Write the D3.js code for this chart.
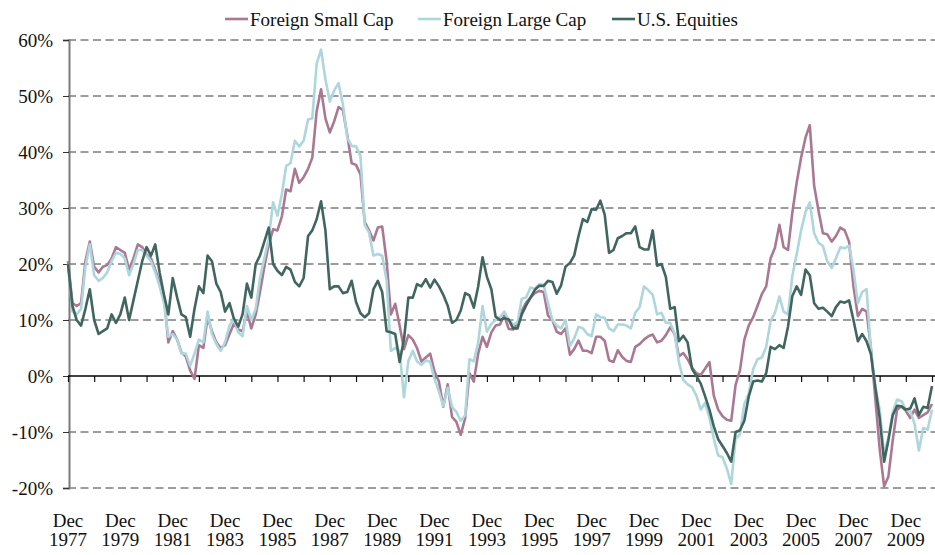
<!DOCTYPE html>
<html>
<head>
<meta charset="utf-8">
<script src="https://cdn.jsdelivr.net/npm/d3@7"></script>
<style>
  body { margin: 0; background: #fff; }
  svg text { font-family: "Liberation Serif", "Times New Roman", serif; fill: #111; }
</style>
</head>
<body>
<div id="container"></div>
<script>
// values every 2 months, starting Dec 1977 (one row per year)
const startDate = new Date(1977, 11, 1)
const stepMonths = 2

const usEquities = [
    20, 12.5, 10, 9, 12, 15.5,
    10, 7.5, 8, 8.5, 11, 9.5,
    11, 14, 10, 13.5, 17, 20.5,
    23, 21.5, 23.5, 18.5, 14.5, 11,
    17.5, 14, 11, 10.5, 7, 12,
    16, 14.8, 21.5, 20.5, 16.5, 15,
    11.5, 13, 10.3, 8.8, 11, 16.5,
    14, 20, 21.5, 24, 26.5, 20,
    18.8, 18, 19.5, 19, 16.8, 16,
    17.5, 25, 26, 28, 31.2, 26,
    15.5, 16, 16, 14.8, 15, 17,
    13.2, 11.2, 10.5, 11.2, 15.5, 17,
    15, 8, 7.8, 7.5, 2.5, 6.5,
    14, 14, 16.4, 16, 17.3, 15.8,
    17.2, 16, 14.5, 12.6, 9.5, 10,
    11.7, 14.8, 14.4, 12.2, 16, 21.2,
    17.7, 15.5, 10.6, 10, 10.3, 10.1,
    8.5, 8.5, 11, 12.6, 14, 15.4,
    16.1, 16.1, 17, 16.8, 14.7, 16.2,
    19.5, 20.2, 21.5, 25, 28, 27.5,
    29.8, 29.7, 31.3, 28.8, 22, 22.5,
    24.6, 25, 25.5, 25.5, 26.7, 23,
    22.6, 22.6, 26, 19.7, 20, 17.7,
    12, 12.3, 6.2, 7.2, 6, 1.3,
    0, -1.4, -3.6, -6, -9, -11.3,
    -12.5, -13.8, -15.3, -10, -9.7, -8,
    -3.7, -1, -0.8, -1, 0.5, 5.2,
    4.8, 5.5, 5, 8.8, 14.3, 16,
    14.5, 19, 18, 13, 12, 12.2,
    11.5, 10.7, 12.3, 13.3, 13.1, 13.5,
    10, 6.2, 7.5, 6.2, 3.9, -2,
    -7.5, -15.3, -11.5, -7, -5.3, -5.4,
    -6, -5.8, -4, -7, -5.5, -5.7,
    -1.8
]

const foreignSmall = [
    20.5, 13, 12.5, 13, 20.5, 24,
    19.5, 18.5, 19.5, 19.8, 21, 23,
    22.5, 22, 19, 21, 23.5, 23,
    21.7, 21, 19, 16.6, 14.2, 6,
    8, 6.5, 4.2, 3.5, 1, -0.5,
    5.5, 5, 10.5, 8, 6, 5,
    5.5, 7.5, 9.3, 8.3, 8, 11.5,
    8.5, 11, 15, 19.5, 23.5, 26.2,
    26, 28.5, 33.3, 33, 37, 34.5,
    35.5, 37, 39, 47.3, 51.2, 46,
    43.5, 45.5, 48, 47.5, 43, 38,
    37.7, 36, 27.5, 26, 24.2, 26.5,
    26.7, 20.5, 11, 12.9, 9, 4.8,
    7.3, 6.5, 5, 2.6, 3.3, 4,
    0.8, -1, -5.5, -1.5, -7.3, -8.2,
    -10.5, -7.5, 0.5, -1, 4, 7,
    5.2, 7.8, 9, 9.2, 10.8, 8.4,
    8.3, 9.5, 11.6, 13.1, 14, 14.8,
    15.2, 15, 10.8, 10, 7.9, 7.5,
    8.5, 3.8, 4.8, 6.3, 4.5, 4.5,
    4.1, 7, 7, 6.3, 2.8, 2.5,
    4.6, 3.4, 2.7, 2.5, 5.2, 5.7,
    6.5, 7.1, 7.4, 6, 6.3, 7.3,
    8.7, 7.5, 3.5, 4.1, 3, 1.5,
    0.5, 0.2, 1.3, 2.5, -3.5, -6,
    -7.2, -7.8, -8, -1.6, 1, 6.5,
    9, 10.5, 12.5, 14.6, 16, 21,
    22.9, 27, 23, 22.5, 29.2, 34.6,
    39, 42.6, 44.8, 34, 29.5, 25.5,
    25.3, 24, 25, 26.5, 26, 24,
    16, 10.7, 12, 11.5, 5, -4,
    -13, -19.7, -18, -11.5, -6, -5.4,
    -6.2, -7.5, -6, -7.5, -7, -6.5,
    -5
]

const foreignLarge = [
    20, 11.5, 11, 12, 19.5, 23.5,
    18, 17, 17.5, 18.5, 20.5, 22,
    21.8, 21, 18, 20, 22.5, 22.5,
    21.5, 20.5, 18.5, 16, 13, 7,
    7.5, 6.5, 4, 4, 1.8, 4,
    6.5, 6, 11.5, 7.5, 5.7, 4.5,
    6, 9, 10.3, 7.8, 7.1, 12.5,
    10, 12, 17.5, 21, 24.5, 31,
    28.6, 32.5, 37.5, 38, 42, 41,
    42, 45.8, 46, 55.8, 58.3, 53,
    49, 51, 52.3, 48.5, 42.5, 41.1,
    41, 39.3, 27, 25.6, 21.5, 21.8,
    21.5, 17, 4.5, 5, 4.5, -3.8,
    2.7, 4.5, 2.6, 2, 2.8, 2.5,
    -0.5, -2.8, -5.4, -2.1, -5.5, -6.4,
    -8, -7, 3, 2.6, 6, 12.5,
    7.9, 9.3, 10, 10.5, 11.5, 10,
    9.2, 9.5, 13.8, 14, 15.8, 15.6,
    16.4, 16.3, 13, 10, 9, 8.5,
    10, 5.4, 6.7, 8.8, 8.5, 7.5,
    7.1, 11, 10.5, 10.4, 8.5, 8,
    9.2, 9.2, 9, 8.5, 11.3, 12.3,
    16, 15.3, 14.5, 11, 11.3, 9.5,
    9.5, 7.5, 2.5, -0.7, -1.5, -2,
    -3.5, -6, -4.8, -7.5, -11.2, -14.2,
    -14.5, -16.6, -19.3, -11.2, -10.4, -5,
    -3.2, 1.2, 3, 3.3, 5.2, 9.8,
    11.3, 14.2, 11.5, 11, 17.9, 21.8,
    26, 29.3, 31, 25.5, 23.8, 23.2,
    20.5, 19.3, 21, 23, 22.8, 23.3,
    19, 13, 15, 15.5, 4.5, -2,
    -6, -14, -11, -6.5, -4.2, -4.5,
    -6, -6.3, -8.5, -13.3, -9.3, -9.6,
    -6
]

const yTicks = [-20, -10, 0, 10, 20, 30, 40, 50, 60]
const tickYears = [1977, 1978, 1979, 1980, 1981, 1982, 1983, 1984, 1985, 1986, 1987,
    1988, 1989, 1990, 1991, 1992, 1993, 1994, 1995, 1996, 1997, 1998, 1999, 2000,
    2001, 2002, 2003, 2004, 2005, 2006, 2007, 2008, 2009, 2010]
const labelYears = [1977, 1979, 1981, 1983, 1985, 1987, 1989, 1991, 1993, 1995,
    1997, 1999, 2001, 2003, 2005, 2007, 2009]

const series = [
    { name: 'Foreign Small Cap', values: foreignSmall, color: '#ab7892' },
    { name: 'Foreign Large Cap', values: foreignLarge, color: '#aed6dd' },
    { name: 'U.S. Equities', values: usEquities, color: '#41665f' }
]

const width = 935
const height = 555
const margin = { top: 40, right: 3, bottom: 67, left: 68 }

const svg = d3.select('#container')
    .append('svg')
    .attr('width', width)
    .attr('height', height)

const dateAt = i => d3.timeMonth.offset(startDate, i * stepMonths)

const xScale = d3.scaleTime()
    .domain([new Date(1977, 11, 1), new Date(2010, 11, 1)])
    .range([margin.left, 932])
const yScale = d3.scaleLinear()
    .domain([-20, 60])
    .range([height - margin.bottom, margin.top])

// dashed grid
svg.append('g')
    .selectAll('line')
    .data(yTicks.filter(t => t !== 0))
    .join('line')
    .attr('x1', margin.left)
    .attr('x2', width)
    .attr('y1', d => yScale(d))
    .attr('y2', d => yScale(d))
    .attr('stroke', '#3a3a3a')
    .attr('stroke-width', 1)
    .attr('stroke-dasharray', '8,4.5')

// y axis
const yAxis = d3.axisLeft(yScale)
    .tickValues(yTicks)
    .tickSize(6)
    .tickPadding(10)
    .tickFormat(d => d + '%')
const gy = svg.append('g')
    .attr('transform', `translate(${margin.left + 1}, 0)`)
    .call(yAxis)
gy.select('.domain').attr('stroke', '#7a7a7a').attr('stroke-width', 2)
gy.selectAll('.tick line').attr('stroke', '#333')
gy.selectAll('.tick text')
    .attr('font-size', '19px')
    .attr('font-family', '"Liberation Serif", serif')
    .attr('fill', '#111')

// zero line with yearly ticks
const xAxis = d3.axisBottom(xScale)
    .tickValues(tickYears.map(y => new Date(y, 11, 1)))
    .tickSize(6)
    .tickFormat('')
const gx = svg.append('g')
    .attr('transform', `translate(0, ${yScale(0)})`)
    .call(xAxis)
gx.select('.domain').remove()
gx.selectAll('.tick line').attr('stroke', '#111').attr('stroke-width', 1.2)
svg.append('line')
    .attr('x1', margin.left)
    .attr('x2', width)
    .attr('y1', yScale(0))
    .attr('y2', yScale(0))
    .attr('stroke', '#000')
    .attr('stroke-width', 1.5)

// x labels
const xLabels = svg.append('g')
    .selectAll('text')
    .data(labelYears)
    .join('text')
    .attr('text-anchor', 'middle')
    .attr('font-size', '19px')
xLabels.append('tspan')
    .attr('x', d => xScale(new Date(d, 11, 1)))
    .attr('y', 527)
    .text('Dec')
xLabels.append('tspan')
    .attr('x', d => xScale(new Date(d, 11, 1)))
    .attr('y', 546)
    .text(d => d)

// lines
const line = d3.line()
    .x((d, i) => xScale(dateAt(i)))
    .y(d => yScale(d))

svg.append('g')
    .selectAll('path')
    .data(series)
    .join('path')
    .attr('d', d => line(d.values))
    .attr('fill', 'none')
    .attr('stroke', d => d.color)
    .attr('stroke-width', 2.6)
    .attr('stroke-linejoin', 'round')

// legend
const legendX = [225, 418, 612]
const legend = svg.append('g')
    .selectAll('g')
    .data(series)
    .join('g')
    .attr('transform', (d, i) => `translate(${legendX[i]}, 19)`)
legend.append('line')
    .attr('x1', 0)
    .attr('x2', 23)
    .attr('stroke', d => d.color)
    .attr('stroke-width', 2.6)
legend.append('text')
    .attr('x', 25)
    .attr('y', 7)
    .attr('font-size', '19px')
    .text(d => d.name)
</script>
</body>
</html>
